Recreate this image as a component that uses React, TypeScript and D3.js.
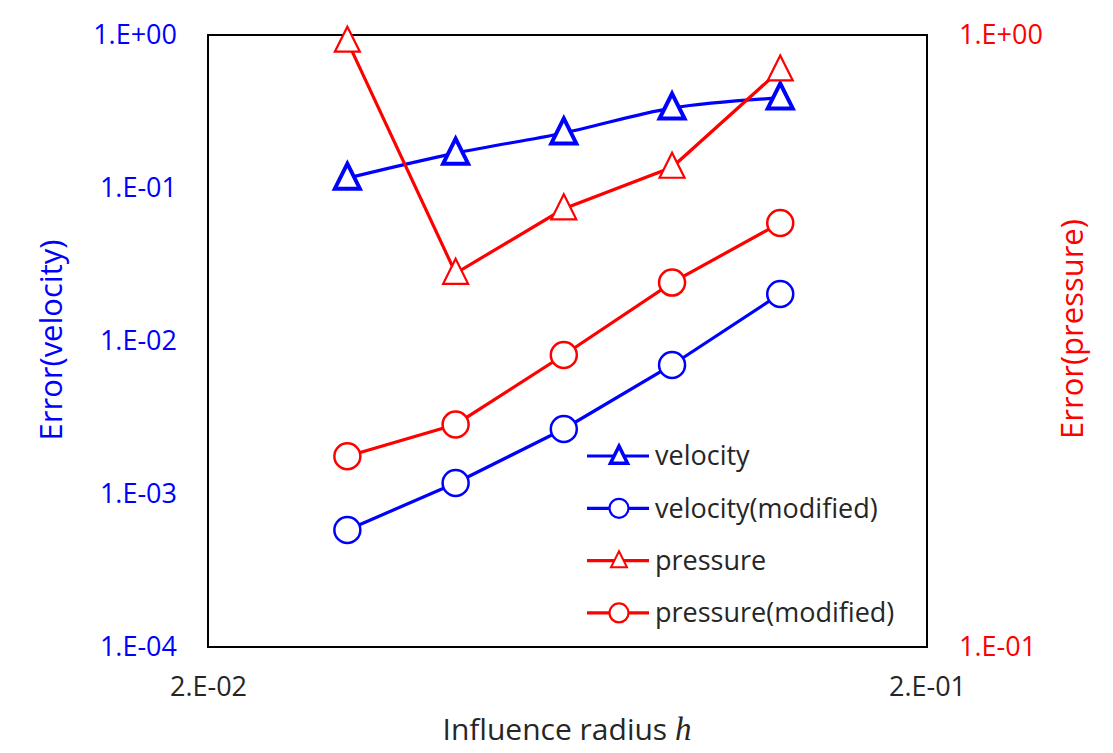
import React, { useEffect, useRef } from 'react';
import * as d3 from 'd3';

// influence radius h
const radius = [0.03125, 0.0442, 0.0625, 0.0884, 0.125];
// left axis (velocity)
const velocity = [0.116, 0.169, 0.229, 0.333, 0.388];
const velocityModified = [5.82e-4, 1.18e-3, 2.66e-3, 6.97e-3, 0.0203];
// right axis (pressure)
const pressure = [0.977, 0.408, 0.52, 0.608, 0.877];
const pressureModified = [0.205, 0.231, 0.3, 0.394, 0.493];

const leftTicks = [1e-4, 1e-3, 1e-2, 1e-1, 1];
const leftTickLabels = ['1.E-04', '1.E-03', '1.E-02', '1.E-01', '1.E+00'];
const rightTicks = [0.1, 1];
const rightTickLabels = ['1.E-01', '1.E+00'];
const xTicks = [0.02, 0.2];
const xTickLabels = ['2.E-02', '2.E-01'];

const seriesNames = ['velocity', 'velocity(modified)', 'pressure', 'pressure(modified)'];

const BLUE = '#0000ff';
const RED = '#ff0000';
const INK = '#262626';
const FONT = '"Open Sans", "Noto Sans", sans-serif';

const App = () => {
	const ref = useRef(null);

	useEffect(() => {
		const svg = d3.select(ref.current);
		svg.selectAll('*').remove();

		const m = { l: 208, r: 927, t: 35, b: 647 };

		const x = d3.scaleLog().domain([0.02, 0.2]).range([m.l, m.r]);
		const yL = d3.scaleLog().domain([1e-4, 1]).range([m.b, m.t]);
		const yR = d3.scaleLog().domain([0.1, 1]).range([m.b, m.t]);

		// frame
		svg.append('rect')
			.attr('x', m.l)
			.attr('y', m.t)
			.attr('width', m.r - m.l)
			.attr('height', m.b - m.t)
			.attr('fill', 'none')
			.attr('stroke', '#000')
			.attr('stroke-width', 2);

		// tick labels only, no tick marks
		const gl = svg.append('g').attr('transform', `translate(${m.l},0)`);
		gl.call(d3.axisLeft(yL).tickValues(leftTicks).tickSize(0).tickPadding(31).tickFormat((d, i) => leftTickLabels[i]));
		gl.select('.domain').remove();
		gl.selectAll('text').attr('fill', BLUE).style('font-family', FONT).style('font-size', '27px');

		const gr = svg.append('g').attr('transform', `translate(${m.r},0)`);
		gr.call(d3.axisRight(yR).tickValues(rightTicks).tickSize(0).tickPadding(32).tickFormat((d, i) => rightTickLabels[i]));
		gr.select('.domain').remove();
		gr.selectAll('text').attr('fill', RED).style('font-family', FONT).style('font-size', '27px');

		const gb = svg.append('g').attr('transform', `translate(0,${m.b})`);
		gb.call(d3.axisBottom(x).tickValues(xTicks).tickSize(0).tickPadding(30).tickFormat((d, i) => xTickLabels[i]));
		gb.select('.domain').remove();
		gb.selectAll('text').attr('fill', INK).attr('dy', '0.71em').style('font-family', FONT).style('font-size', '27px');

		// axis titles
		svg.append('text')
			.attr('transform', `translate(62,340) rotate(-90)`)
			.attr('text-anchor', 'middle')
			.attr('fill', BLUE)
			.style('font-family', FONT)
			.style('font-size', '31px')
			.text('Error(velocity)');

		svg.append('text')
			.attr('transform', `translate(1083,329) rotate(-90)`)
			.attr('text-anchor', 'middle')
			.attr('fill', RED)
			.style('font-family', FONT)
			.style('font-size', '31px')
			.text('Error(pressure)');

		const xt = svg.append('text')
			.attr('x', 567)
			.attr('y', 740)
			.attr('text-anchor', 'middle')
			.attr('fill', INK)
			.style('font-family', FONT)
			.style('font-size', '30px');
		xt.append('tspan').text('Influence radius ');
		xt.append('tspan')
			.style('font-family', '"Liberation Serif", "DejaVu Serif", serif')
			.style('font-style', 'italic')
			.style('font-size', '33px')
			.text('h');

		const tri = (s) => `M0,${-s * 0.58}L${s / 2},${s * 0.42}L${-s / 2},${s * 0.42}Z`;

		const series = [
			{ name: seriesNames[0], vals: velocity, y: yL, color: BLUE, marker: 'tri', mw: 4, smooth: true },
			{ name: seriesNames[1], vals: velocityModified, y: yL, color: BLUE, marker: 'circ', mw: 2.5, smooth: false },
			{ name: seriesNames[2], vals: pressure, y: yR, color: RED, marker: 'tri', mw: 2.2, smooth: false },
			{ name: seriesNames[3], vals: pressureModified, y: yR, color: RED, marker: 'circ', mw: 2.5, smooth: false },
		];

		series.forEach(s => {
			const line = d3.line()
				.x((d, i) => x(radius[i]))
				.y(d => s.y(d))
				.curve(s.smooth ? d3.curveCatmullRom.alpha(0.5) : d3.curveLinear);
			const g = svg.append('g');
			g.append('path')
				.attr('d', line(s.vals))
				.attr('fill', 'none')
				.attr('stroke', s.color)
				.attr('stroke-width', 3.2);
			g.selectAll('.mk')
				.data(s.vals)
				.join(s.marker === 'tri' ? 'path' : 'circle')
				.attr('class', 'mk')
				.each(function (d, i) {
					const el = d3.select(this);
					if (s.marker === 'tri') {
						el.attr('d', tri(25)).attr('transform', `translate(${x(radius[i])},${s.y(d)})`);
					} else {
						el.attr('cx', x(radius[i])).attr('cy', s.y(d)).attr('r', 13);
					}
				})
				.attr('fill', '#fff')
				.attr('stroke', s.color)
				.attr('stroke-width', s.mw);
		});

		// legend
		const lg = svg.append('g').attr('transform', 'translate(587,456)');
		const rowGap = 52.3;
		series.forEach((s, i) => {
			const row = lg.append('g').attr('transform', `translate(0,${i * rowGap})`);
			row.append('line')
				.attr('x1', 0)
				.attr('x2', 62)
				.attr('y1', 0)
				.attr('y2', 0)
				.attr('stroke', s.color)
				.attr('stroke-width', 3.2);
			if (s.marker === 'tri') {
				row.append('path')
					.attr('d', tri(s.mw === 4 ? 17 : 16))
					.attr('transform', 'translate(32,0)')
					.attr('fill', '#fff')
					.attr('stroke', s.color)
					.attr('stroke-width', s.mw === 4 ? 3.5 : 2);
			} else {
				row.append('circle')
					.attr('cx', 32)
					.attr('cy', 0)
					.attr('r', 9.5)
					.attr('fill', '#fff')
					.attr('stroke', s.color)
					.attr('stroke-width', 2.2);
			}
			row.append('text')
				.attr('x', 68)
				.attr('y', 0)
				.attr('dy', '0.35em')
				.attr('fill', INK)
				.style('font-family', FONT)
				.style('font-size', '27px')
				.text(s.name);
		});
	}, []);

	return <svg ref={ref} width={1113} height={753} style={{ display: 'block', margin: '-8px' }}></svg>;
};

export default App;
